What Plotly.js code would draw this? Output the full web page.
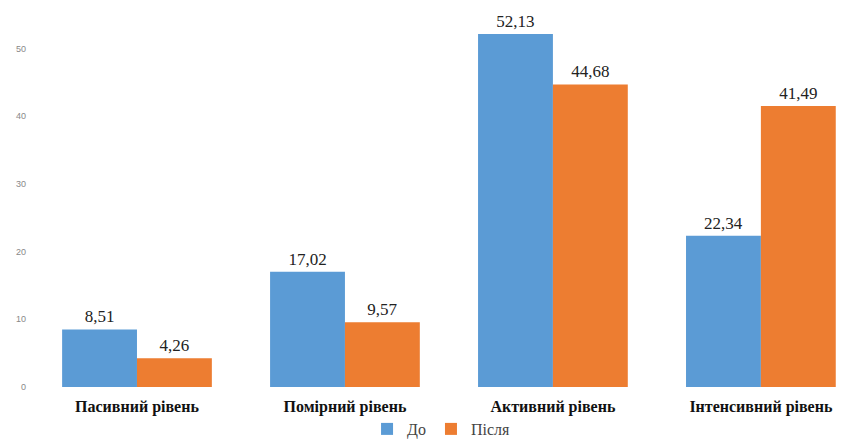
<!DOCTYPE html>
<html><head><meta charset="utf-8">
<script src="https://cdn.plot.ly/plotly-3.0.1.min.js"></script>
<style>html,body{margin:0;padding:0;background:#fff}#c{width:842px;height:446px}</style>
</head><body><div id="c"></div>
<script>
const categories = ["Пасивний рівень", "Помірний рівень", "Активний рівень", "Інтенсивний рівень"];
const before = [8.51, 17.02, 52.13, 22.34];
const after = [4.26, 9.57, 44.68, 41.49];
const seriesNames = ["До", "Після"];
const fmt = v => v.toFixed(2).replace('.', ',');
const serif = 'Liberation Serif, Times New Roman, serif';
const traces = [
  {type:'bar', name:seriesNames[0], x:categories, y:before, text:before.map(fmt), textposition:'outside',
   marker:{color:'#5B9BD5'}, textfont:{family:serif, size:17, color:'#222'}, cliponaxis:false},
  {type:'bar', name:seriesNames[1], x:categories, y:after, text:after.map(fmt), textposition:'outside',
   marker:{color:'#ED7D31'}, textfont:{family:serif, size:17, color:'#222'}, cliponaxis:false}
];
const layout = {
  width:842, height:446,
  margin:{l:33, r:0, t:20, b:59},
  barmode:'group', bargap:0.28, bargroupgap:0,
  paper_bgcolor:'#fff', plot_bgcolor:'#fff',
  font:{family:serif},
  xaxis:{range:[-0.5, 3.39], showgrid:false, zeroline:false, showline:false, ticks:'',
    tickfont:{family:serif, size:16, color:'#111', weight:'bold'}, ticklabelstandoff:8},
  yaxis:{range:[0, 54.2], showgrid:false, zeroline:false, showline:false, ticks:'',
    tickvals:[0,10,20,30,40,50], tickfont:{family:'Liberation Sans', size:9, color:'#888'}, ticklabelstandoff:6},
  showlegend:true,
  legend:{orientation:'h', x:0.505, xanchor:'center', yref:'container', y:-0.03, yanchor:'bottom',
    font:{family:serif, size:16, color:'#444'}, itemwidth:30, tracegroupgap:0},
};
Plotly.newPlot('c', traces, layout, {displayModeBar:false, staticPlot:true});
</script></body></html>
